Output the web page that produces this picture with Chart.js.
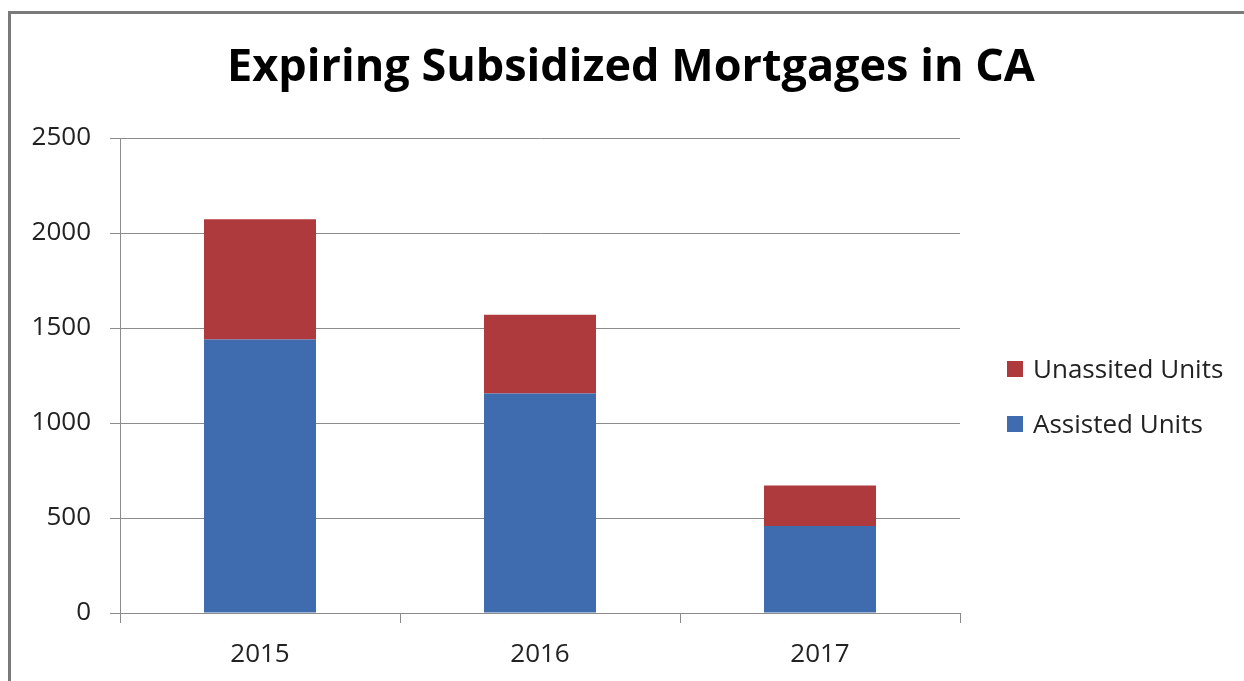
<!DOCTYPE html>
<html><head><meta charset="utf-8">
<script src="https://cdn.jsdelivr.net/npm/chart.js@4/dist/chart.umd.min.js"></script>
<style>
html,body{margin:0;padding:0;background:#fff;overflow:hidden}
#frame{position:absolute;left:8px;top:11px;width:1260px;height:700px;border-left:3px solid #7a7a7a;border-top:3px solid #7a7a7a;box-sizing:border-box}
#wrap{position:absolute;left:0;top:0;width:1244px;height:681px}
</style></head>
<body>
<div id="frame"></div>
<div id="wrap"><canvas id="c" width="1244" height="681"></canvas></div>
<script>
const titleText = 'Expiring Subsidized Mortgages in CA';
const categories = ['2015', '2016', '2017'];
const assistedUnits = [1440, 1155, 458];
const unassistedUnits = [632, 415, 213];
const seriesNames = ['Assisted Units', 'Unassited Units'];
const seriesColors = ['#3E6CAF', '#AF3A3D'];
const yTicks = [0, 500, 1000, 1500, 2000, 2500];

const FONT = "'Open Sans', 'Noto Sans', sans-serif";

const decorPlugin = {
  id: 'decor',
  afterDraw(chart) {
    const ctx = chart.ctx;
    ctx.save();
    // title
    ctx.font = 'bold 45px ' + FONT;
    ctx.textBaseline = 'middle';
    ctx.textAlign = 'center';
    ctx.fillStyle = '#000';
    ctx.fillText(titleText, 631, 68);
    // legend
    ctx.font = '26px ' + FONT;
    ctx.textAlign = 'left';
    const items = chart.data.datasets.slice().reverse();
    const x0 = 1007, y0 = 370, gap = 55, box = 16;
    items.forEach((ds, i) => {
      const cy = y0 + i * gap;
      ctx.fillStyle = ds.backgroundColor;
      ctx.fillRect(x0, cy - box / 2 - 1, box, box);
      ctx.fillStyle = '#222';
      ctx.fillText(ds.label, x0 + 26, cy + 1);
    });
    ctx.restore();
  }
};

new Chart(document.getElementById('c'), {
  type: 'bar',
  data: {
    labels: categories,
    datasets: [
      { label: seriesNames[0], data: assistedUnits, backgroundColor: seriesColors[0], barPercentage: 0.4, categoryPercentage: 1.0 },
      { label: seriesNames[1], data: unassistedUnits, backgroundColor: seriesColors[1], barPercentage: 0.4, categoryPercentage: 1.0 }
    ]
  },
  options: {
    responsive: false,
    animation: false,
    layout: { padding: { left: 14, right: 284, top: 138, bottom: 0 } },
    plugins: {
      legend: { display: false },
      tooltip: { enabled: false },
      title: { display: false }
    },
    scales: {
      x: {
        stacked: true,
        grid: { offset: true, drawOnChartArea: false, drawTicks: true, tickLength: 10, color: '#8c8c8c', lineWidth: 1 },
        border: { display: true, color: '#8c8c8c', width: 1 },
        ticks: { color: '#222', font: { family: FONT, size: 26 }, padding: 16, maxRotation: 0 },
        afterFit(scale) { scale.height = 68; }
      },
      y: {
        stacked: true,
        min: 0, max: 2500,
        afterBuildTicks(scale) { scale.ticks = yTicks.map(v => ({ value: v })); },
        grid: { drawTicks: true, tickLength: 10, color: '#8c8c8c', lineWidth: 1 },
        border: { display: true, color: '#8c8c8c', width: 1 },
        ticks: { color: '#222', font: { family: FONT, size: 26 }, padding: 19, callback: v => String(v) },
        afterFit(scale) { scale.width = 106; }
      }
    }
  },
  plugins: [decorPlugin]
});
</script>
</body></html>
